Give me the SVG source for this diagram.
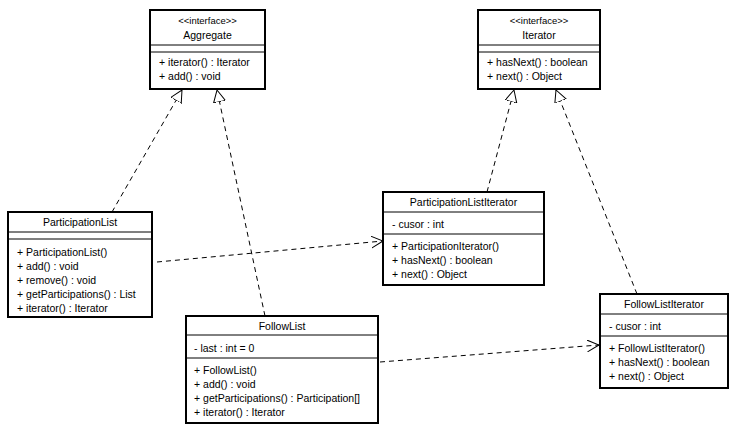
<svg xmlns="http://www.w3.org/2000/svg" width="736" height="433" viewBox="0 0 736 433">
<style>
.b{fill:#fff;stroke:#000;stroke-width:2}
.s{stroke:#000;stroke-width:1}
text{font-family:"Liberation Sans",Arial,sans-serif;font-size:10.5px;fill:#000}
.c{text-anchor:middle}
.d{fill:none;stroke:#000;stroke-width:1;stroke-dasharray:5,4}
</style>
<defs>
<marker id="tri" markerWidth="14" markerHeight="14" refX="12" refY="6" orient="auto" markerUnits="userSpaceOnUse"><path d="M0,0 L12,6 L0,12 Z" fill="#fff" stroke="#000"/></marker>
<marker id="open" markerWidth="14" markerHeight="14" refX="12" refY="6" orient="auto" markerUnits="userSpaceOnUse"><path d="M0,0 L12,6 L0,12" fill="none" stroke="#000"/></marker>
</defs>
<rect width="736" height="433" fill="#fff"/>
<g id="connectors">
<path class="d" d="M112,212 L182,90" marker-end="url(#tri)"/>
<path class="d" d="M265,316 L217,90" marker-end="url(#tri)"/>
<path class="d" d="M487,192 L514,90" marker-end="url(#tri)"/>
<path class="d" d="M637,294 L556,90" marker-end="url(#tri)"/>
<path class="d" d="M157,262 L383,241" marker-end="url(#open)"/>
<path class="d" d="M380,362 L599,345" marker-end="url(#open)"/>
</g>
<g id="Aggregate">
<rect class="b" x="150" y="10" width="115" height="79"/>
<line class="s" x1="150" y1="45" x2="265" y2="45"/><line class="s" x1="150" y1="52" x2="265" y2="52"/>
<text class="c" x="207.5" y="24" style="font-size:9.5px">&lt;&lt;interface&gt;&gt;</text>
<text class="c" x="207.5" y="39">Aggregate</text>
<text x="159" y="66">+ iterator() : Iterator</text>
<text x="159" y="80">+ add() : void</text>
</g>
<g id="Iterator">
<rect class="b" x="478" y="10" width="122" height="79"/>
<line class="s" x1="478" y1="45" x2="600" y2="45"/><line class="s" x1="478" y1="52" x2="600" y2="52"/>
<text class="c" x="539" y="24" style="font-size:9.5px">&lt;&lt;interface&gt;&gt;</text>
<text class="c" x="539" y="39">Iterator</text>
<text x="487" y="66">+ hasNext() : boolean</text>
<text x="487" y="80">+ next() : Object</text>
</g>
<g id="ParticipationList">
<rect class="b" x="8" y="212" width="144" height="105"/>
<line class="s" x1="8" y1="232" x2="152" y2="232"/><line class="s" x1="8" y1="239" x2="152" y2="239"/>
<text class="c" x="80" y="226">ParticipationList</text>
<text x="17" y="256">+ ParticipationList()</text>
<text x="17" y="270">+ add() : void</text>
<text x="17" y="284">+ remove() : void</text>
<text x="17" y="298">+ getParticipations() : List</text>
<text x="17" y="312">+ iterator() : Iterator</text>
</g>
<g id="FollowList">
<rect class="b" x="186" y="316" width="192" height="107"/>
<line class="s" x1="186" y1="335" x2="378" y2="335"/><line class="s" x1="186" y1="358" x2="378" y2="358"/>
<text class="c" x="282" y="330">FollowList</text>
<text x="194" y="352">- last : int = 0</text>
<text x="194" y="374">+ FollowList()</text>
<text x="194" y="388">+ add() : void</text>
<text x="194" y="402">+ getParticipations() : Participation[]</text>
<text x="194" y="416">+ iterator() : Iterator</text>
</g>
<g id="ParticipationListIterator">
<rect class="b" x="383" y="192" width="161" height="93"/>
<line class="s" x1="383" y1="212" x2="544" y2="212"/><line class="s" x1="383" y1="234" x2="544" y2="234"/>
<text class="c" x="463.5" y="206">ParticipationListIterator</text>
<text x="392" y="228">- cusor : int</text>
<text x="392" y="250">+ ParticipationIterator()</text>
<text x="392" y="264">+ hasNext() : boolean</text>
<text x="392" y="278">+ next() : Object</text>
</g>
<g id="FollowListIterator">
<rect class="b" x="600" y="294" width="128" height="94"/>
<line class="s" x1="600" y1="314" x2="728" y2="314"/><line class="s" x1="600" y1="336" x2="728" y2="336"/>
<text class="c" x="664" y="308">FollowListIterator</text>
<text x="609" y="330">- cusor : int</text>
<text x="609" y="352">+ FollowListIterator()</text>
<text x="609" y="366">+ hasNext() : boolean</text>
<text x="609" y="380">+ next() : Object</text>
</g>
</svg>
